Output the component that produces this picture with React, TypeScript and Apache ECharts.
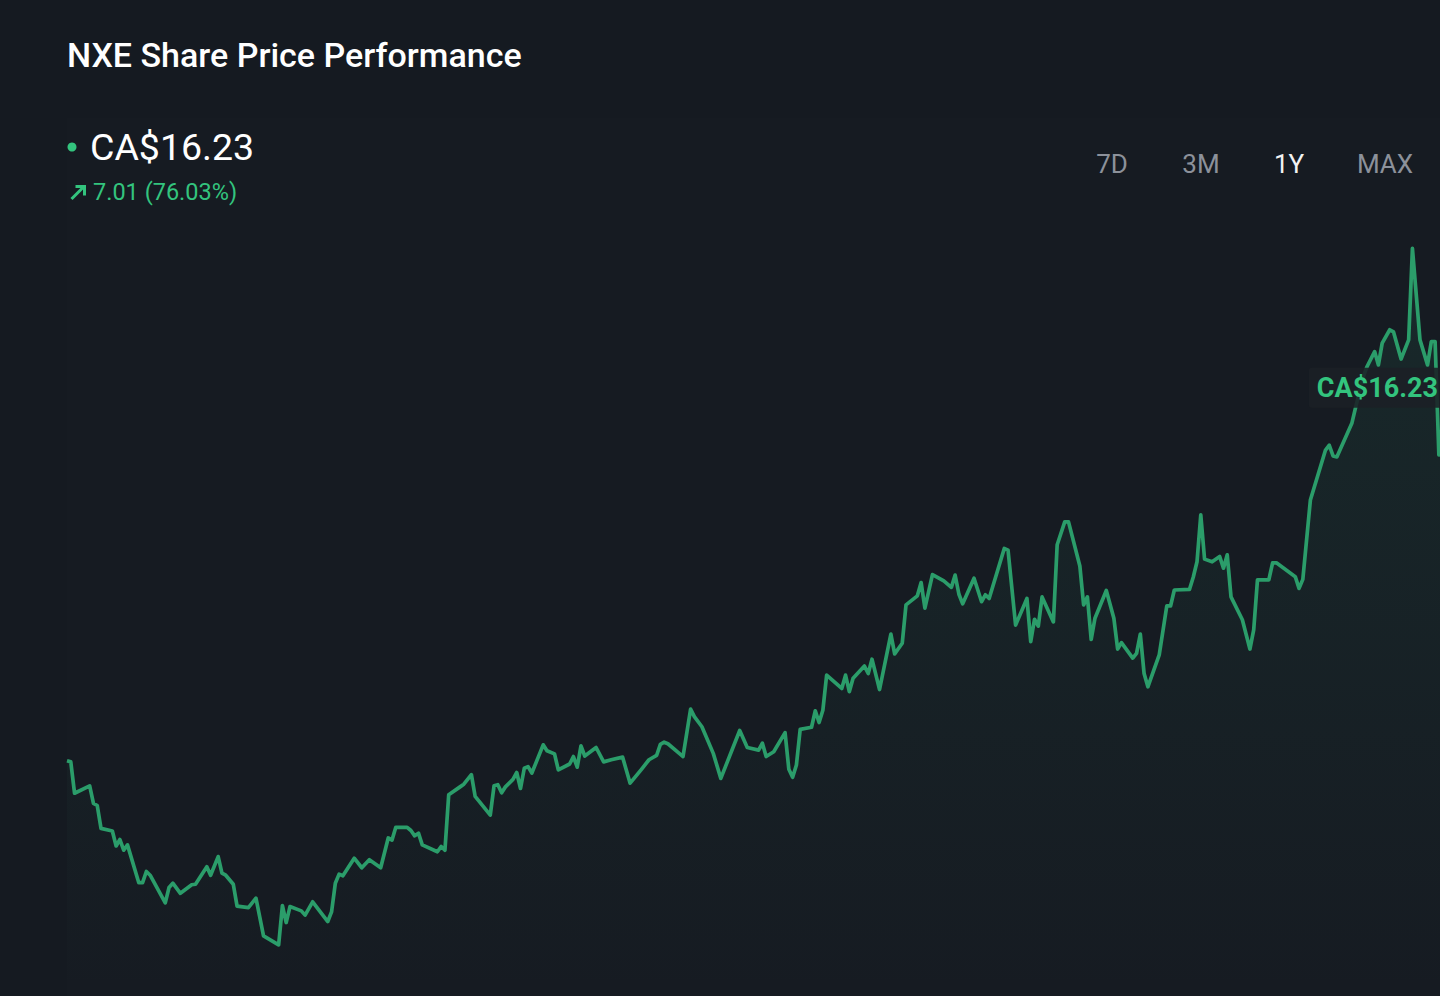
import React, { useEffect, useRef } from "react";
import * as echarts from "echarts";

const title = "NXE Share Price Performance";
const currentPriceLabel = "CA$16.23";
const changeLabel = "7.01 (76.03%)";
const periods = ["7D", "3M", "1Y", "MAX"];
const activePeriod = "1Y";

// calendar-day index within the 1Y window
const days = [
  0, 1, 2, 6, 7, 8, 9, 12, 13, 14,
  15, 16, 19, 20, 21, 22, 26, 27, 28, 30,
  33, 34, 37, 38, 40, 41, 42, 44, 45, 48,
  50, 52, 56, 57, 58, 59, 62, 63, 65, 69,
  70, 71, 72, 73, 76, 78, 80, 83, 85, 86,
  87, 90, 91, 92, 93, 94, 98, 99, 100, 101,
  104, 105, 107, 108, 112, 113, 114, 115, 116, 118,
  119, 120, 121, 122, 123, 126, 127, 129, 130, 133,
  134, 135, 136, 137, 140, 142, 144, 147, 149, 152,
  154, 156, 157, 158, 159, 162, 163, 165, 166, 168,
  171, 173, 178, 180, 183, 184, 185, 187, 190, 191,
  192, 193, 194, 197, 198, 199, 200, 201, 205, 206,
  207, 208, 211, 212, 213, 215, 218, 219, 221, 222,
  225, 226, 227, 229, 232, 234, 235, 236, 237, 240,
  242, 243, 244, 248, 249, 251, 254, 255, 256, 257,
  258, 261, 262, 264, 265, 268, 269, 270, 271, 272,
  275, 277, 278, 279, 282, 283, 284, 285, 286, 289,
  291, 292, 293, 297, 298, 299, 300, 301, 303, 305,
  306, 307, 308, 311, 313, 314, 315, 318, 319, 320,
  325, 326, 327, 329, 333, 334, 335, 336, 340, 341,
  343, 344, 346, 347, 348, 350, 351, 353, 355, 356,
  358, 360, 361, 362, 363, 365,
];

// share price, CA$
const prices = [
  9.22, 9.2, 8.61, 8.75, 8.42, 8.38, 7.95, 7.9, 7.62, 7.74,
  7.54, 7.64, 6.93, 6.93, 7.14, 7.07, 6.55, 6.84, 6.92, 6.73,
  6.89, 6.9, 7.23, 7.07, 7.42, 7.11, 7.07, 6.9, 6.49, 6.46,
  6.64, 5.93, 5.76, 6.5, 6.18, 6.48, 6.4, 6.32, 6.57, 6.2,
  6.38, 6.92, 7.09, 7.06, 7.39, 7.21, 7.36, 7.21, 7.77, 7.73,
  7.97, 7.97, 7.91, 7.81, 7.86, 7.64, 7.51, 7.61, 7.54, 8.58,
  8.73, 8.78, 8.96, 8.55, 8.2, 8.75, 8.77, 8.62, 8.73, 8.87,
  9.0, 8.7, 9.08, 9.11, 8.99, 9.52, 9.41, 9.35, 9.05, 9.16,
  9.3, 9.1, 9.5, 9.31, 9.47, 9.2, 9.24, 9.29, 8.8, 9.06,
  9.24, 9.32, 9.53, 9.57, 9.54, 9.36, 9.3, 10.19, 10.05, 9.86,
  9.36, 8.89, 9.79, 9.47, 9.42, 9.55, 9.3, 9.39, 9.75, 9.06,
  8.91, 9.14, 9.81, 9.85, 10.16, 9.94, 10.17, 10.83, 10.58, 10.83,
  10.52, 10.77, 11.0, 10.86, 11.13, 10.56, 11.6, 11.23, 11.43, 12.15,
  12.32, 12.57, 12.09, 12.72, 12.6, 12.48, 12.71, 12.35, 12.17, 12.65,
  12.21, 12.34, 12.27, 13.21, 13.18, 11.77, 12.27, 11.46, 11.88, 11.75,
  12.3, 11.83, 13.28, 13.71, 13.71, 12.88, 12.15, 12.3, 11.5, 11.9,
  12.42, 11.9, 11.32, 11.44, 11.15, 11.24, 11.6, 10.86, 10.61, 11.21,
  12.13, 12.13, 12.43, 12.44, 12.67, 12.96, 13.84, 13.01, 12.96, 13.06,
  12.84, 13.09, 12.3, 11.87, 11.32, 11.68, 12.62, 12.62, 12.94, 12.94,
  12.68, 12.46, 12.63, 14.12, 15.06, 15.15, 14.95, 14.93, 15.57, 15.87,
  16.44, 16.63, 16.91, 16.66, 17.07, 17.32, 17.28, 16.77, 17.13, 18.85,
  17.13, 16.66, 17.1, 17.1, 14.97, 16.23,
];

const BG = "#151a21";
const LINE = "#2b9d6a";
const GREEN = "#33c47e";
const FONT = "Roboto, 'Noto Sans', sans-serif";
const CHART_W = 1454; // plot runs a little past the visible right edge

export default function App() {
  const ref = useRef<HTMLDivElement>(null);

  useEffect(() => {
    if (!ref.current) return;
    const chart = echarts.init(ref.current, null, { renderer: "svg" });
    const data = days.map((d, i) => [d, prices[i]]);
    const last = data[data.length - 1];

    const periodCenters = [1112, 1201, 1289, 1385];

    chart.setOption({
      animation: false,
      backgroundColor: BG,
      grid: {
        left: 67,
        right: 0,
        top: 118,
        bottom: 0,
        show: true,
        borderWidth: 0,
        backgroundColor: "rgba(255,255,255,0.008)",
      },
      xAxis: { type: "value", min: 0, max: 367, show: false },
      yAxis: { type: "value", min: 4.8, max: 21.3, show: false, splitLine: { show: false } },
      series: [
        {
          type: "line",
          data,
          showSymbol: false,
          symbol: "none",
          lineStyle: { color: LINE, width: 3.7, join: "round" },
          areaStyle: {
            color: new echarts.graphic.LinearGradient(0, 0, 0, 1, [
              { offset: 0, color: "rgba(46,170,120,0.14)" },
              { offset: 1, color: "rgba(46,170,120,0.0)" },
            ]),
          },
          markPoint: {
            symbol: "circle",
            symbolSize: 1,
            itemStyle: { color: "rgba(0,0,0,0)" },
            data: [{ coord: last }],
            label: {
              show: true,
              position: "left",
              distance: 0,
              formatter: currentPriceLabel,
              color: GREEN,
              fontSize: 27,
              fontWeight: "bold",
              fontFamily: FONT,
              lineHeight: 26,
              backgroundColor: "rgba(27,32,38,0.88)",
              padding: [7, 8, 7, 8],
              borderRadius: 3,
            },
          },
        },
      ],
      graphic: [
        {
          type: "text",
          x: 67,
          y: 55,
          style: {
            text: title,
            fill: "#ffffff",
            font: `500 34px ${FONT}`,
            textVerticalAlign: "middle",
          },
        },
        {
          type: "circle",
          shape: { cx: 72, cy: 147, r: 4.5 },
          style: { fill: GREEN },
        },
        {
          type: "text",
          x: 90,
          y: 147,
          style: {
            text: currentPriceLabel,
            fill: "#ffffff",
            font: `400 37.5px ${FONT}`,
            textVerticalAlign: "middle",
          },
        },
        {
          type: "line",
          shape: { x1: 71.5, y1: 199, x2: 84, y2: 186.5 },
          style: { stroke: GREEN, lineWidth: 3 },
        },
        {
          type: "polyline",
          shape: { points: [[75.5, 186.5], [84.5, 186.5], [84.5, 195.5]] },
          style: { stroke: GREEN, lineWidth: 3, fill: null },
        },
        {
          type: "text",
          x: 93,
          y: 192,
          style: {
            text: changeLabel,
            fill: GREEN,
            font: `400 23.5px ${FONT}`,
            textVerticalAlign: "middle",
          },
        },
        ...periods.map((p, i) => ({
          type: "text",
          x: periodCenters[i],
          y: 164,
          style: {
            text: p,
            fill: p === activePeriod ? "#f2f2f2" : "#8c919a",
            font: `400 26px ${FONT}`,
            textAlign: "center",
            textVerticalAlign: "middle",
          },
        })),
      ],
    });

    return () => chart.dispose();
  }, []);

  return (
    <div
      style={{
        position: "fixed",
        left: 0,
        top: 0,
        width: 1440,
        height: 996,
        background: BG,
        overflow: "hidden",
      }}
    >
      <div ref={ref} style={{ width: CHART_W, height: 996 }} />
    </div>
  );
}
